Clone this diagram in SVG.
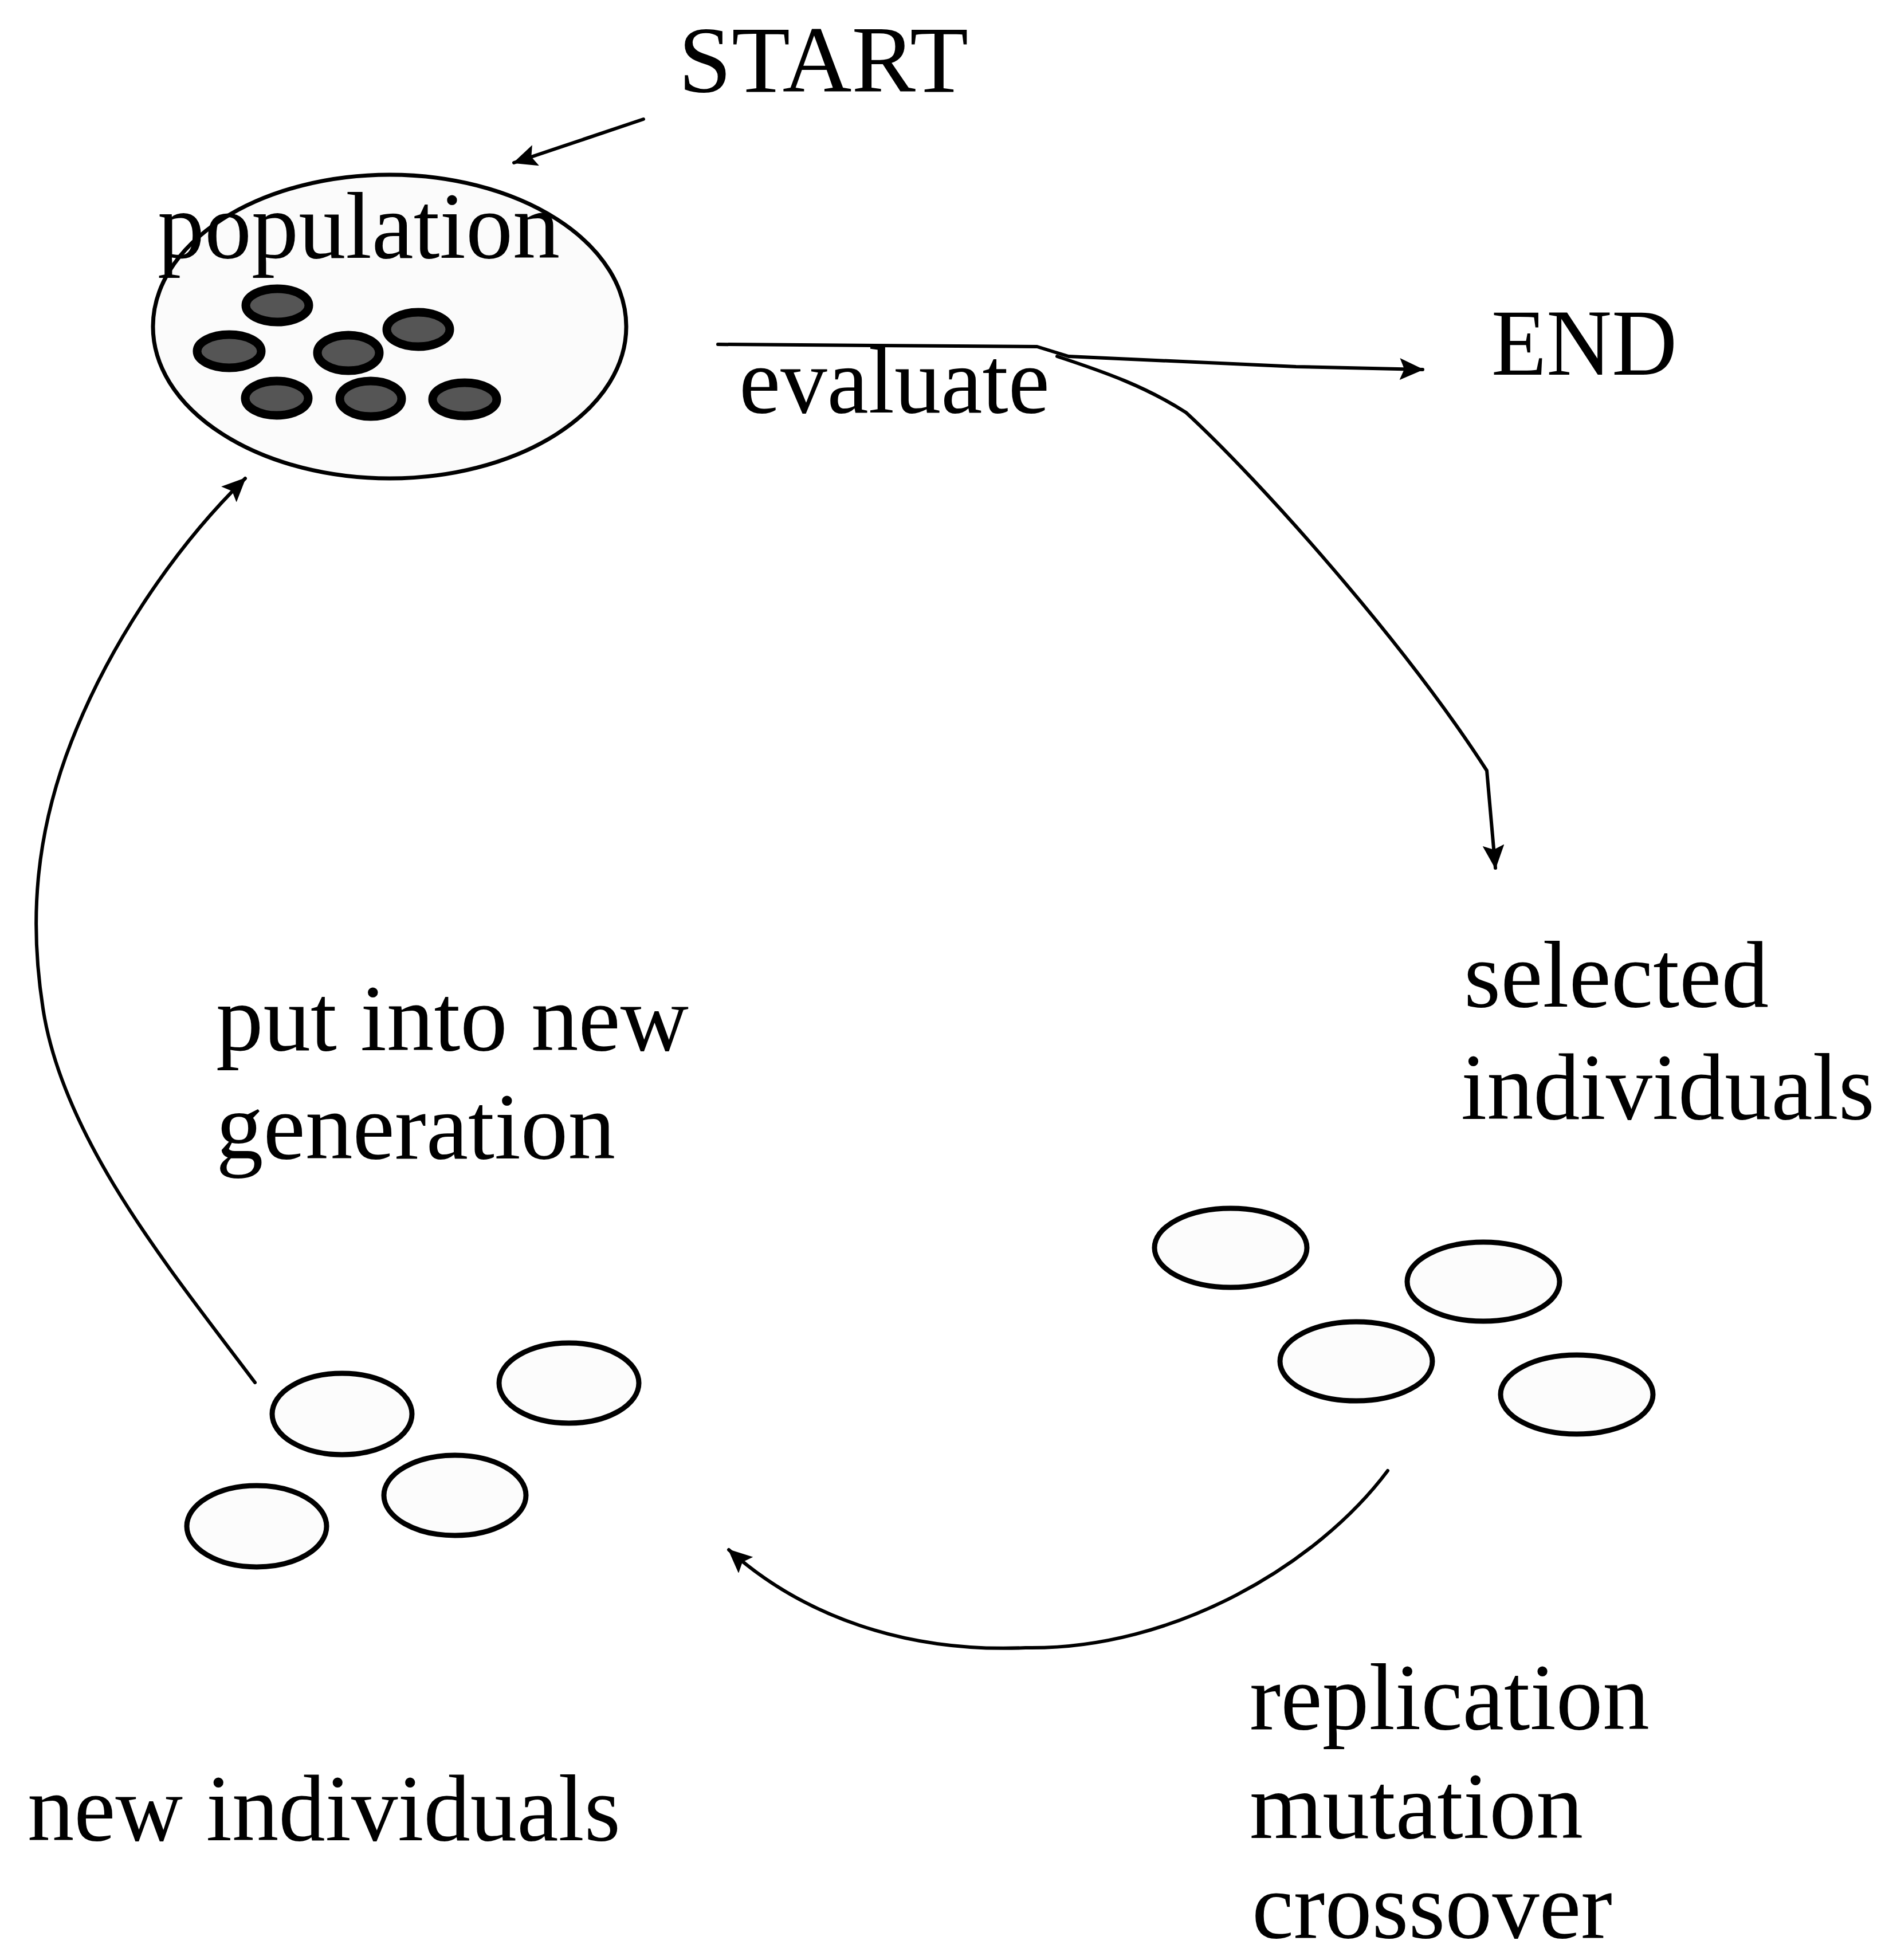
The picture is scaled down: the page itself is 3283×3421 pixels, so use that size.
<svg xmlns="http://www.w3.org/2000/svg" width="3283" height="3421" viewBox="0 0 3283 3421">
<style>
.t{font-family:"Liberation Serif","Times New Roman",serif;font-size:165px;fill:#000}
.dot{fill:#555;stroke:#000;stroke-width:15}
.ind{fill:#fcfcfc;stroke:#000;stroke-width:9}
.pop{fill:#fbfbfb;stroke:#000;stroke-width:7}
.c{fill:none;stroke:#000;stroke-width:6;stroke-linecap:round;stroke-linejoin:round}
</style>
<defs>
<marker id="ah" markerUnits="userSpaceOnUse" viewBox="0 0 42 38" refX="40" refY="19" markerWidth="42" markerHeight="38" orient="auto">
<path d="M0,0 L42,19 L0,38 L8,19 z" fill="#000"/>
</marker>
</defs>
<rect width="3283" height="3421" fill="#fff"/>

<g id="start">
<text class="t" x="1184" y="160" textLength="506" lengthAdjust="spacingAndGlyphs">START</text>
</g>

<g id="population">
<ellipse class="pop" cx="680" cy="570" rx="413" ry="265"/>
<ellipse class="dot" cx="484" cy="533" rx="55" ry="29"/>
<ellipse class="dot" cx="730" cy="575" rx="55" ry="30"/>
<ellipse class="dot" cx="400" cy="613" rx="56" ry="29"/>
<ellipse class="dot" cx="608" cy="616" rx="54" ry="31"/>
<ellipse class="dot" cx="483" cy="695" rx="55" ry="30"/>
<ellipse class="dot" cx="647" cy="696" rx="54" ry="31"/>
<ellipse class="dot" cx="811" cy="697" rx="56" ry="29"/>
<text class="t" x="275" y="450" textLength="702" lengthAdjust="spacingAndGlyphs">population</text>
</g>

<g id="evaluate">
<text class="t" x="1290" y="720" textLength="542" lengthAdjust="spacingAndGlyphs">evaluate</text>
</g>

<g id="end">
<text class="t" x="2603" y="654" textLength="324" lengthAdjust="spacingAndGlyphs">END</text>
</g>

<g id="selected-individuals">
<text class="t" x="2555" y="1757" textLength="532" lengthAdjust="spacingAndGlyphs">selected</text>
<text class="t" x="2550" y="1953" textLength="722" lengthAdjust="spacingAndGlyphs">individuals</text>
<ellipse class="ind" cx="2148" cy="2178" rx="133" ry="69"/>
<ellipse class="ind" cx="2589" cy="2237" rx="133" ry="69"/>
<ellipse class="ind" cx="2367" cy="2376" rx="133" ry="69"/>
<ellipse class="ind" cx="2752" cy="2434" rx="133" ry="69"/>
</g>

<g id="operators">
<text class="t" x="2181" y="3018" textLength="698" lengthAdjust="spacingAndGlyphs">replication</text>
<text class="t" x="2181" y="3208" textLength="582" lengthAdjust="spacingAndGlyphs">mutation</text>
<text class="t" x="2185" y="3382" textLength="629" lengthAdjust="spacingAndGlyphs">crossover</text>
</g>

<g id="new-individuals">
<ellipse class="ind" cx="597" cy="2468" rx="122" ry="71"/>
<ellipse class="ind" cx="993" cy="2414" rx="122" ry="70"/>
<ellipse class="ind" cx="794" cy="2610" rx="124" ry="70"/>
<ellipse class="ind" cx="448" cy="2664" rx="122" ry="71"/>
<text class="t" x="48" y="3212" textLength="1035" lengthAdjust="spacingAndGlyphs">new individuals</text>
</g>

<g id="put-into-new-generation">
<text class="t" x="377" y="1833" textLength="825" lengthAdjust="spacingAndGlyphs">put into new</text>
<text class="t" x="377" y="2022" textLength="697" lengthAdjust="spacingAndGlyphs">generation</text>
</g>

<g id="connectors">
<path class="c" d="M1123,208 L897,284" marker-end="url(#ah)"/>
<path class="c" d="M1253,601 L1810,605 L1865,622 L2262,640 L2483,645" marker-end="url(#ah)"/>
<path class="c" d="M1845,622 C1930,650 2000,675 2070,720 C2200,840 2450,1120 2595,1345 L2610,1515" marker-end="url(#ah)"/>
<path class="c" d="M2422,2567 C2300,2730 2050,2880 1790,2876 C1580,2885 1400,2820 1272,2705" marker-end="url(#ah)"/>
<path class="c" d="M445,2413 C300,2220 110,1990 75,1760 C50,1600 65,1460 115,1320 C180,1140 300,960 428,835" marker-end="url(#ah)"/>
</g>
</svg>
